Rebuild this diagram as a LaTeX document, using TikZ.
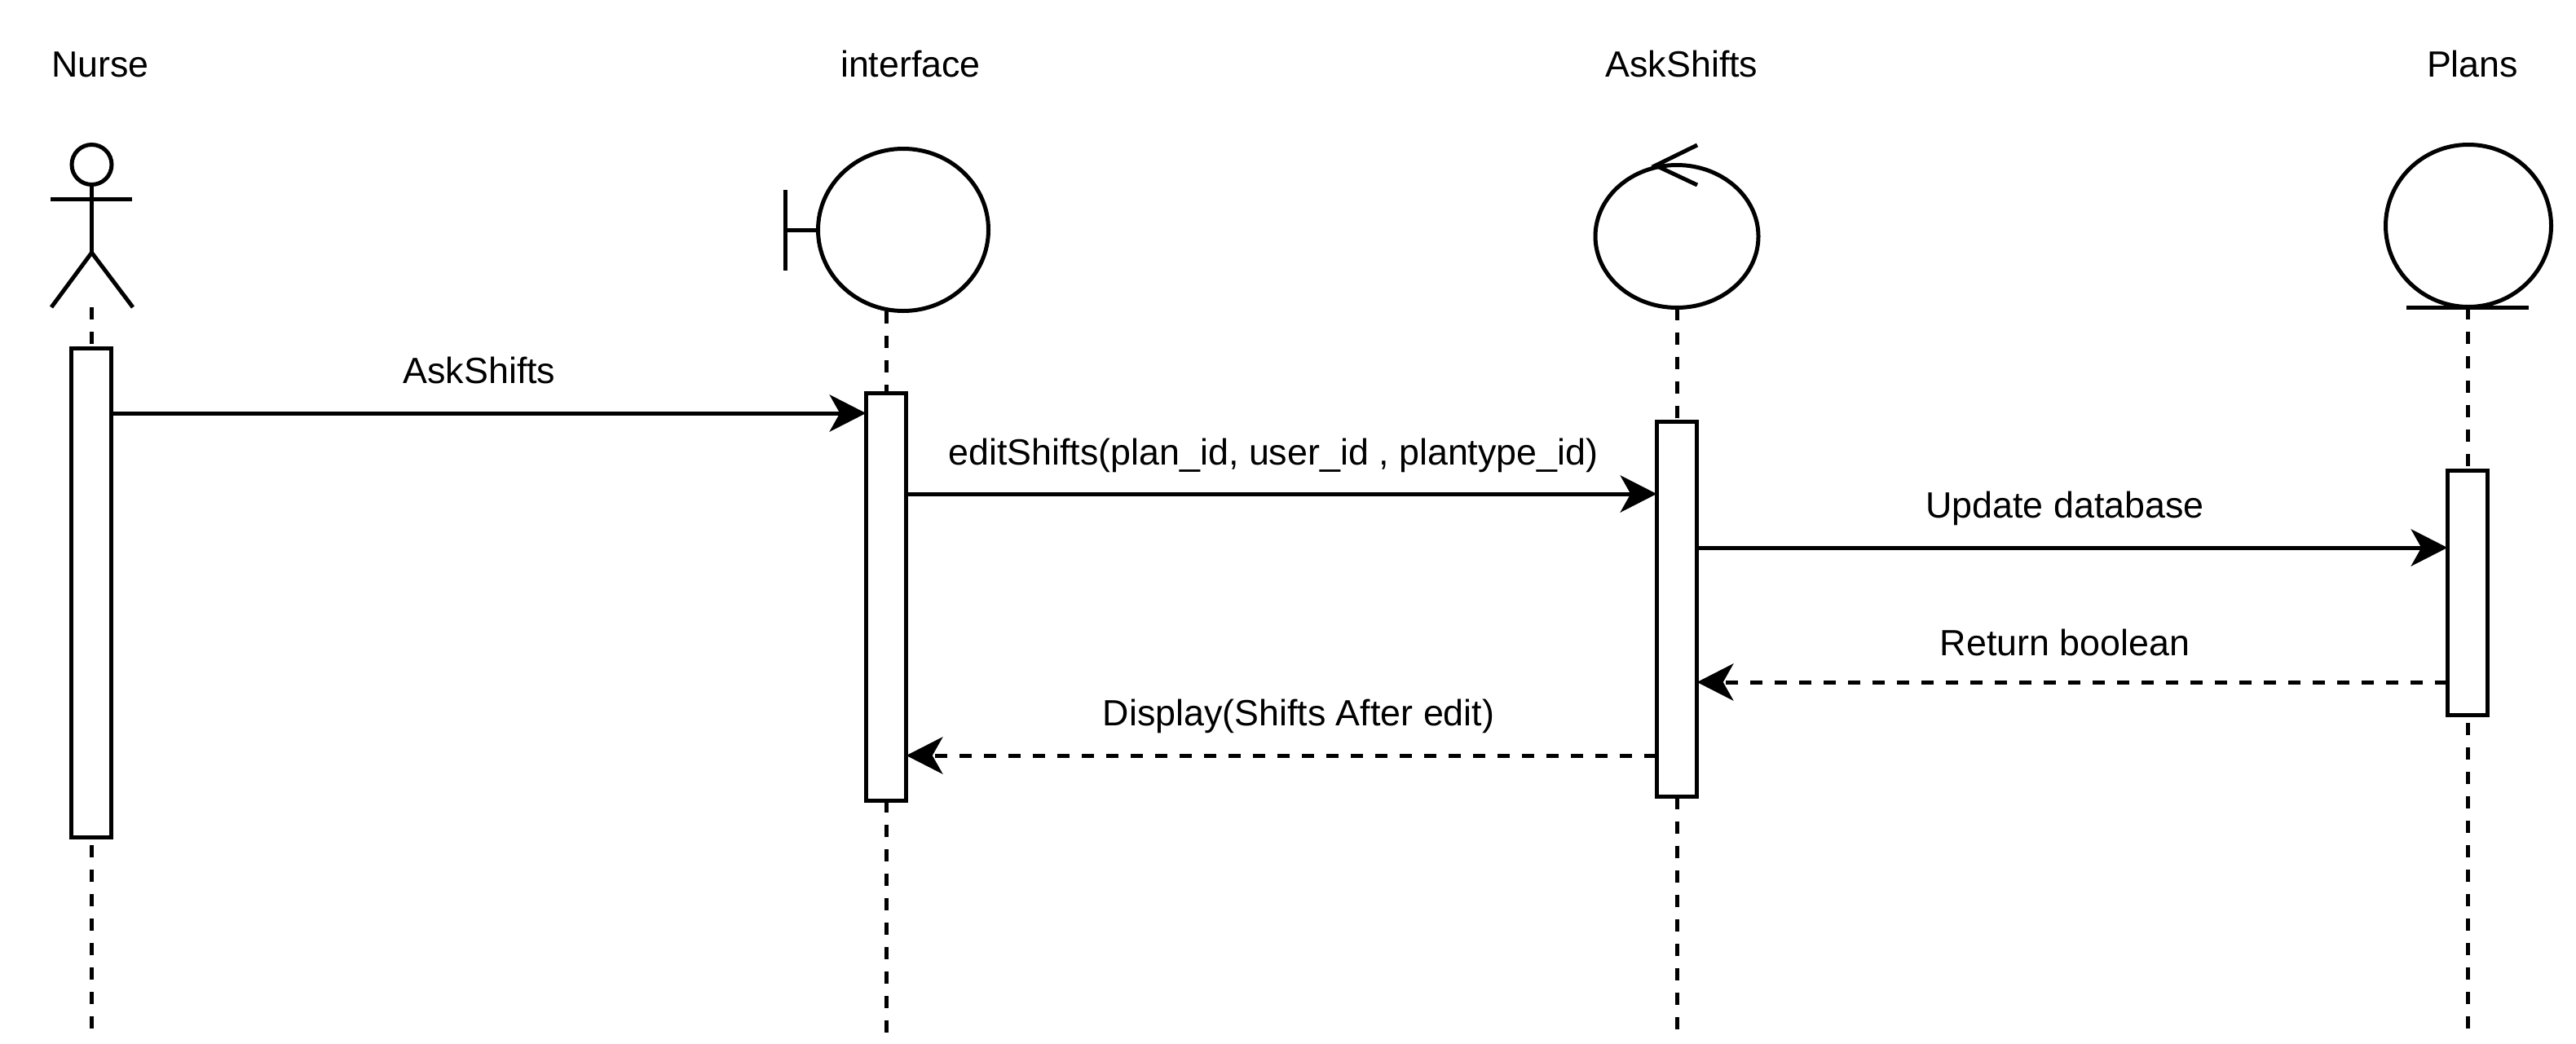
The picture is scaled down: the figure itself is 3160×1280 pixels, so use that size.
\documentclass[tikz,border=0pt]{standalone}
\usepackage{fontspec}
\setmainfont{Liberation Sans}
\usetikzlibrary{arrows.meta,shapes.geometric,backgrounds}
\tikzset{
  x=1pt,y=-1pt,
  every node/.style={inner sep=0pt,outer sep=0pt},
  lbl/.style={anchor=base,font=\fontsize{44.8}{50}\selectfont},
  shp/.style={line width=5pt,line cap=butt},
  bubble/.style={shape=ellipse,draw,line width=5pt,fill=white},
  bar/.style={shape=rectangle,draw,line width=5pt,fill=white,minimum width=49.5pt},
  life/.style={line width=5pt,dash pattern=on 15pt off 15pt},
  tipend/.style={-{Stealth[length=45pt,width=46pt,inset=13pt,line width=0pt]}},
  call/.style={line width=5pt,tipend},
  reply/.style={line width=5pt,dash pattern=on 15pt off 15pt,tipend},
}
\begin{document}
\begin{tikzpicture}
\useasboundingbox (0,0) rectangle (3160,1280);
% titles
\node[lbl] (tNurse) at (123,94) {Nurse};
\node[lbl] (tIface) at (1117,94) {interface};
\node[lbl] (tAsk) at (2063,94) {AskShifts};
\node[lbl] (tPlans) at (3033,94) {Plans};
% actor
\node[bubble,minimum width=49pt,minimum height=49pt] (head) at (112.5,202) {};
\coordinate (hip) at (112.5,310);
\coordinate (footL) at (63,377);
\coordinate (footR) at (163,377);
\coordinate (armL) at (62,244);
\coordinate (armR) at (162,244);
\coordinate (nurseFoot) at (112.5,377);
\draw[shp] (head.south) -- (hip);
\draw[shp] (armL) -- (armR);
\draw[shp] (footL) -- (hip) -- (footR);
% boundary
\node[bubble,minimum width=209pt,minimum height=199pt] (iface) at (1108,282) {};
\coordinate (ifaceT) at (963,282);
\coordinate (ifaceTa) at (963,233);
\coordinate (ifaceTb) at (963,332);
\coordinate (ifaceFoot) at (1087,382);
\draw[shp] (ifaceTa) -- (ifaceTb);
\draw[shp] (ifaceT) -- (iface.west);
% control
\node[bubble,minimum width=200pt,minimum height=175pt] (ask) at (2057,290) {};
\coordinate (askTip) at (2031,203);
\coordinate (askUp) at (2082,178);
\coordinate (askDn) at (2082,227);
\draw[shp] (askUp) -- (askTip) -- (askDn);
% entity
\node[bubble,minimum width=203pt,minimum height=199pt] (plans) at (3028,277) {};
\coordinate (plansL) at (2952,377);
\coordinate (plansR) at (3102,377);
\draw[shp] (plansL) -- (plansR);
% activations
\node[bar,minimum height=600pt] (aNurse) at (112,727) {};
\node[bar,minimum height=500pt] (aIface) at (1087,732) {};
\node[bar,minimum height=460pt] (aAsk) at (2057,747) {};
\node[bar,minimum height=300pt] (aPlans) at (3027,727) {};
% lifelines
\coordinate (endNurse) at (112.5,1264);
\coordinate (endIface) at (1087,1267);
\coordinate (endAsk) at (2057,1263);
\coordinate (endPlans) at (3027,1264);
\begin{scope}[on background layer]
\draw[life] (nurseFoot) -- (endNurse);
\draw[life] (ifaceFoot) -- (endIface);
\draw[life] (ask.south) -- (endAsk);
\draw[life] (plans.south -| endPlans) -- (endPlans);
\end{scope}
% messages
\draw[call] (aNurse.east |- 0,507) -- (aIface.west |- 0,507);
\draw[call] (aIface.east |- 0,606) -- (aAsk.west |- 0,606);
\draw[call] (aAsk.east |- 0,672) -- (aPlans.west |- 0,672);
\draw[reply] (aPlans.west |- 0,837) -- (aAsk.east |- 0,837);
\draw[reply] (aAsk.west |- 0,927) -- (aIface.east |- 0,927);
% labels
\node[lbl] (m1) at (588,470) {AskShifts};
\node[lbl] (m2) at (1562,570) {editShifts(plan\_id, user\_id , plantype\_id)};
\node[lbl] (m3) at (2533,635) {Update database};
\node[lbl] (m4) at (2533,804) {Return boolean};
\node[lbl] (m5) at (1593,890) {Display(Shifts After edit)};
\end{tikzpicture}
\end{document}
